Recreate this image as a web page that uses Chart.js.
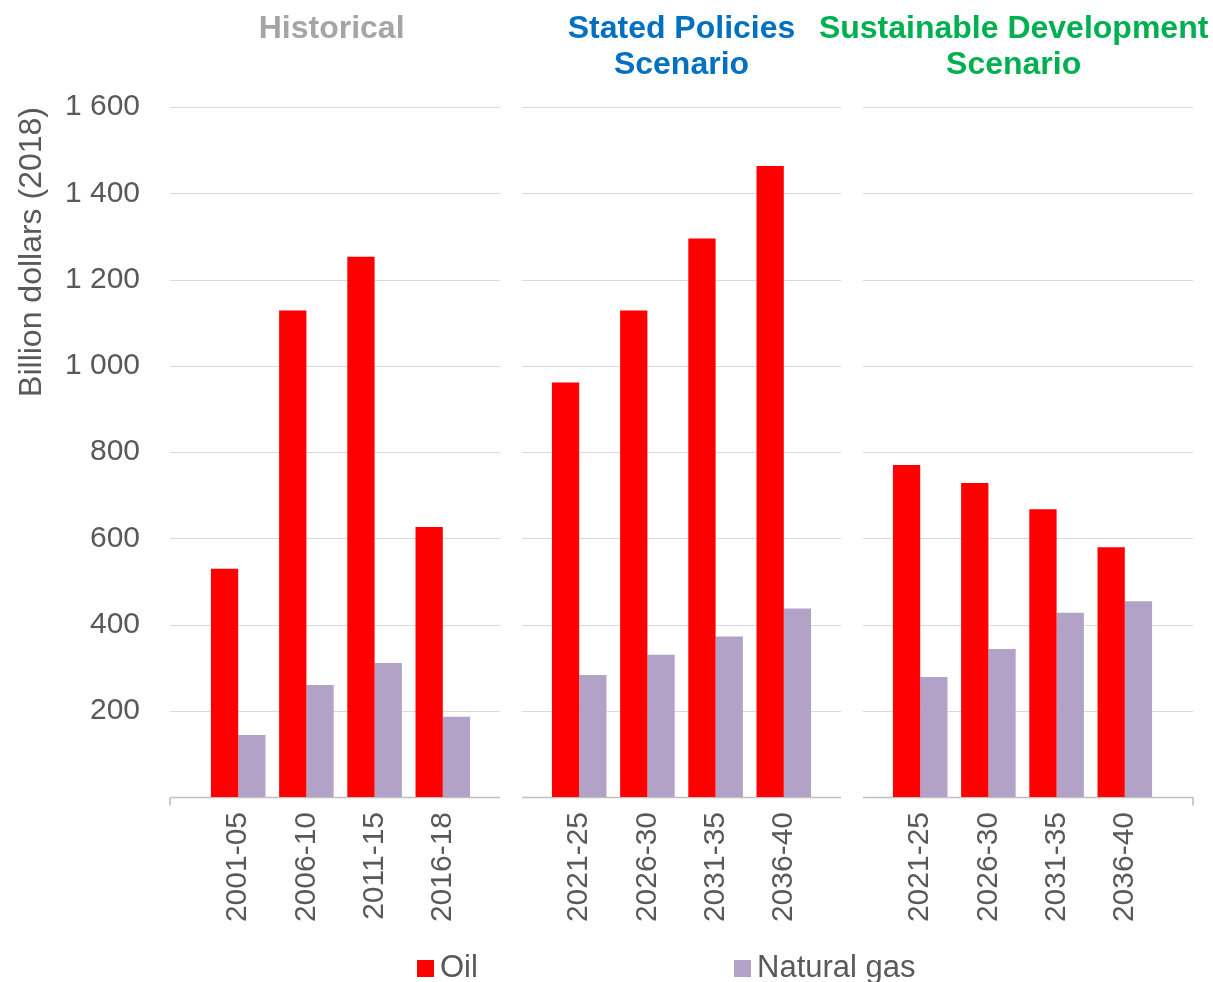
<!DOCTYPE html>
<html>
<head>
<meta charset="utf-8">
<script src="https://cdn.jsdelivr.net/npm/chart.js@4.4.1/dist/chart.umd.min.js"></script>
<style>
html,body{margin:0;padding:0;background:#fff;}
#wrap{width:1213px;height:982px;position:relative;}
</style>
</head>
<body>
<div id="wrap"><canvas id="c" width="1213" height="982"></canvas></div>
<script>
// ---- data ----
const groupTitles = [['Historical'], ['Stated Policies', 'Scenario'], ['Sustainable Development', 'Scenario']];
const groupColors = ['#a5a5a5', '#0070c0', '#00b050'];
const histPeriods = ['2001-05', '2006-10', '2011-15', '2016-18'];
const projPeriods = ['2021-25', '2026-30', '2031-35', '2036-40'];
const oilHistorical = [529, 1128, 1253, 626];
const gasHistorical = [144, 260, 311, 186];
const oilStated = [961, 1128, 1295, 1463];
const gasStated = [283, 330, 372, 437];
const oilSustainable = [770, 728, 667, 579];
const gasSustainable = [278, 343, 427, 454];
const seriesNames = ['Oil', 'Natural gas'];
const seriesColors = ['#ff0000', '#b2a2c7'];
const yMin = 0, yMax = 1600, yStep = 200;

// categories with a blank spacer before, between and after the groups
const labels = ['', ...histPeriods, '', ...projPeriods, '', ...projPeriods, ''];
const oilData = [null, ...oilHistorical, null, ...oilStated, null, ...oilSustainable, null];
const gasData = [null, ...gasHistorical, null, ...gasStated, null, ...gasSustainable, null];
const spacerIdx = [5, 10];

const FONT = '"Liberation Sans", Arial, sans-serif';
const TXT = '#595959';
Chart.defaults.font.family = FONT;

function fmt(v) {
  if (v === 0) return '';
  const s = String(v);
  return s.length > 3 ? s.slice(0, s.length - 3) + ' ' + s.slice(-3) : s;
}

const segGrid = {
  id: 'segGrid',
  beforeDatasetsDraw(chart) {
    const {ctx} = chart;
    const x = chart.scales.x, y = chart.scales.y;
    const gap = 11;
    const p1 = x.getPixelForValue(spacerIdx[0]), p2 = x.getPixelForValue(spacerIdx[1]);
    const segs = [[x.left, p1 - gap], [p1 + gap, p2 - gap], [p2 + gap, x.right]];
    ctx.save();
    ctx.strokeStyle = '#d9d9d9';
    ctx.lineWidth = 1.2;
    for (let v = yMin + yStep; v <= yMax; v += yStep) {
      const py = Math.round(y.getPixelForValue(v)) + 0.5;
      segs.forEach(([a, b]) => { ctx.beginPath(); ctx.moveTo(a, py); ctx.lineTo(b, py); ctx.stroke(); });
    }
    const by = y.getPixelForValue(0) + 0.5;
    ctx.strokeStyle = '#bfbfbf';
    ctx.lineWidth = 1.6;
    segs.forEach(([a, b]) => { ctx.beginPath(); ctx.moveTo(a, by); ctx.lineTo(b, by); ctx.stroke(); });
    ctx.beginPath();
    ctx.moveTo(x.left, by); ctx.lineTo(x.left, by + 8);
    ctx.moveTo(x.right, by); ctx.lineTo(x.right, by + 8);
    ctx.stroke();
    ctx.restore();
  }
};

const groupHeaders = {
  id: 'groupHeaders',
  afterDraw(chart) {
    const {ctx} = chart;
    const x = chart.scales.x;
    const centers = [2.37, 7.5, 12.37];
    ctx.save();
    ctx.font = 'bold 32px ' + FONT;
    ctx.textAlign = 'center';
    ctx.textBaseline = 'middle';
    groupTitles.forEach((lines, g) => {
      const cx = x.getPixelForValue(centers[g]);
      ctx.fillStyle = groupColors[g];
      lines.forEach((t, i) => ctx.fillText(t, cx, 29 + i * 36));
    });
    ctx.restore();
  }
};

const customLegend = {
  id: 'customLegend',
  afterDraw(chart) {
    const {ctx} = chart;
    const xs = [417, 734];
    ctx.save();
    ctx.font = '31px ' + FONT;
    ctx.textAlign = 'left';
    ctx.textBaseline = 'middle';
    chart.data.datasets.forEach((ds, i) => {
      ctx.fillStyle = ds.backgroundColor;
      ctx.fillRect(xs[i], 960, 17, 17);
      ctx.fillStyle = TXT;
      ctx.fillText(ds.label, xs[i] + 23, 968);
    });
    ctx.restore();
  }
};

new Chart(document.getElementById('c'), {
  type: 'bar',
  data: {
    labels: labels,
    datasets: [
      {label: seriesNames[0], data: oilData, backgroundColor: seriesColors[0]},
      {label: seriesNames[1], data: gasData, backgroundColor: seriesColors[1]}
    ]
  },
  options: {
    responsive: false,
    animation: false,
    devicePixelRatio: 1,
    categoryPercentage: 0.8,
    barPercentage: 1.0,
    layout: {padding: {left: 0, right: 20, top: 107, bottom: 0}},
    plugins: {legend: {display: false}, tooltip: {enabled: false}},
    scales: {
      x: {
        type: 'category',
        offset: false,
        grid: {display: false, drawTicks: false},
        border: {display: false},
        ticks: {autoSkip: false, minRotation: 90, maxRotation: 90, padding: 15,
                font: {size: 30}, color: TXT},
        afterFit(s) { s.height = 185; s.paddingLeft = 0; s.paddingRight = 0; }
      },
      y: {
        min: yMin, max: yMax,
        grid: {display: false, drawTicks: false},
        border: {display: false},
        ticks: {stepSize: yStep, padding: 30, font: {size: 30}, color: TXT, callback: v => fmt(v)},
        title: {display: true, text: 'Billion dollars (2018)', align: 'end', color: TXT,
                font: {size: 32}, padding: {top: 13, bottom: 0}},
        afterFit(s) { s.width = 170; }
      }
    }
  },
  plugins: [segGrid, groupHeaders, customLegend]
});
</script>
</body>
</html>
